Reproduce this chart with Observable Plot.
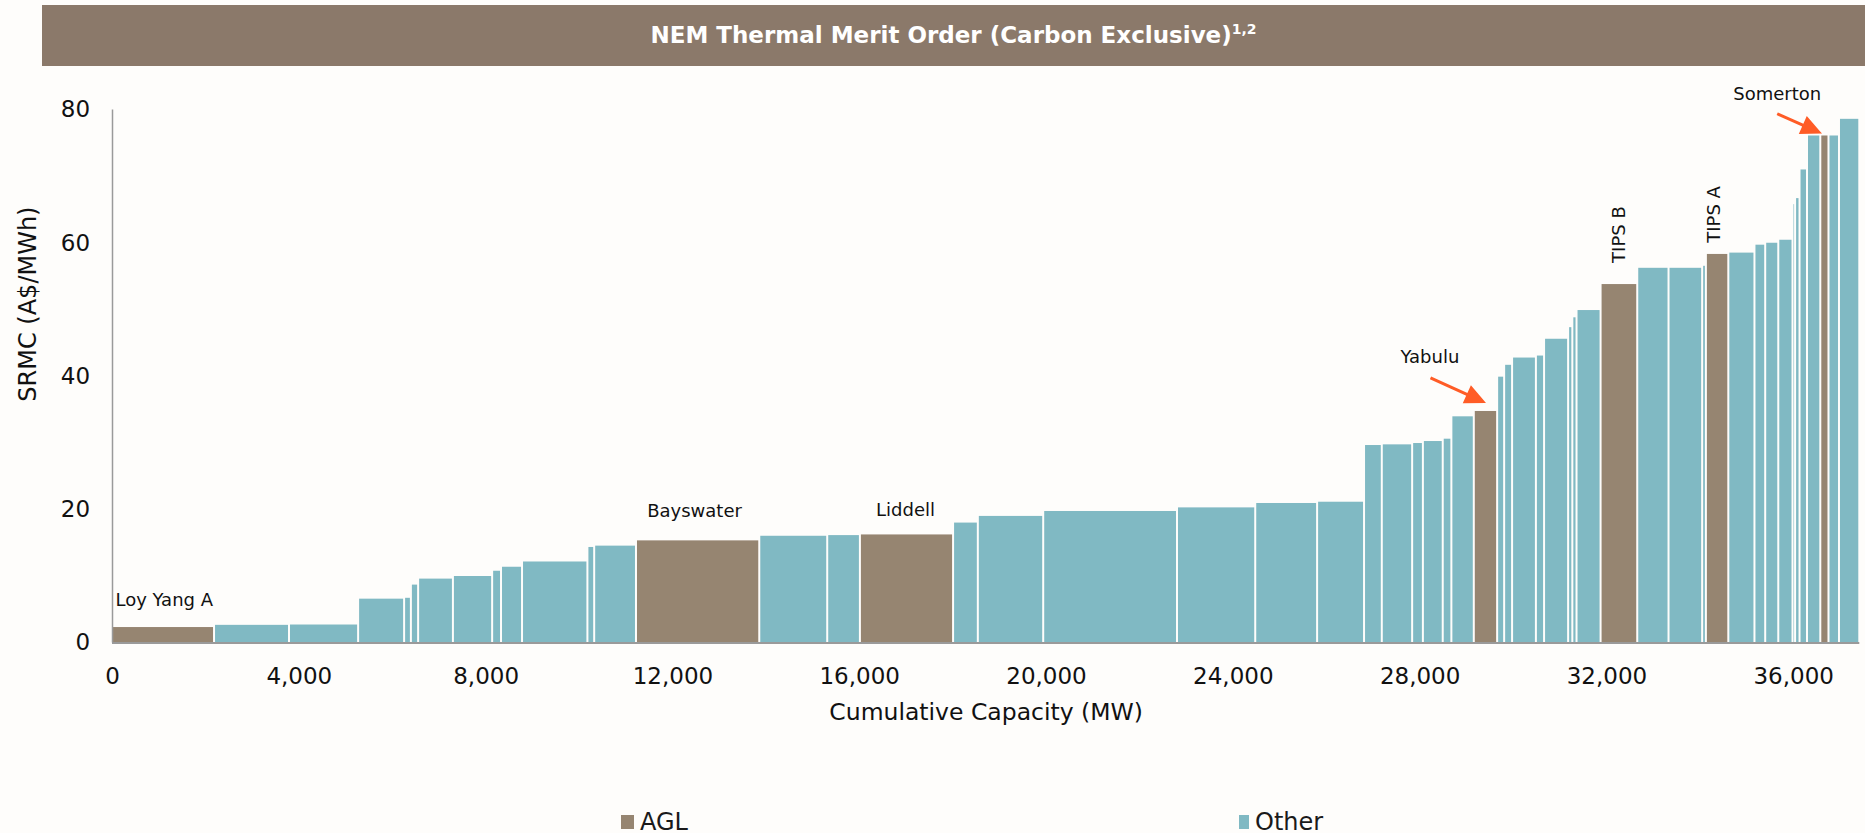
<!DOCTYPE html>
<html>
<head>
<meta charset="utf-8">
<script src="https://cdn.jsdelivr.net/npm/d3@7"></script>
<script src="https://cdn.jsdelivr.net/npm/@observablehq/plot@0.6"></script>
<style>
html, body { margin: 0; padding: 0; background: #FEFDFB; overflow: hidden; }
body { width: 1865px; height: 833px; font-family: "DejaVu Sans", Verdana, sans-serif; }
#title { margin: 5px 0 0 42px; height: 61px; line-height: 61px; background: #8B796A; color: #fff;
  font-weight: bold; font-size: 23px; text-align: center; white-space: nowrap; }
#title sup { font-size: 14px; line-height: 0; vertical-align: 9px; }
#chart svg { display: block; }
#legend { position: relative; height: 25px; font-size: 24px; color: #1a1a1a; }
#legend .sw { position: absolute; top: 7px; height: 14px; }
#legend .lb { position: absolute; top: 0; height: 28px; line-height: 28px; white-space: nowrap; }
</style>
</head>
<body>
<div id="title">NEM Thermal Merit Order (Carbon Exclusive)<sup>1,2</sup></div>
<div id="chart"></div>
<div id="legend"></div>
<script>
// ---- data ----
const plants = [
  "Loy Yang A", "", "", "", "", "", "", "", "", "", "", "", "",
  "Bayswater", "", "", "Liddell", "", "", "", "", "", "", "", "", "", "", "", "",
  "Yabulu", "", "", "", "", "", "", "", "",
  "TIPS B", "", "", "", "TIPS A", "", "", "", "", "", "", "", "",
  "Somerton", "", ""
];
const owners = [
  "AGL", "Other", "Other", "Other", "Other", "Other", "Other", "Other", "Other", "Other", "Other", "Other", "Other",
  "AGL", "Other", "Other", "AGL", "Other", "Other", "Other", "Other", "Other", "Other", "Other", "Other", "Other", "Other", "Other", "Other",
  "AGL", "Other", "Other", "Other", "Other", "Other", "Other", "Other", "Other",
  "AGL", "Other", "Other", "Other", "AGL", "Other", "Other", "Other", "Other", "Other", "Other", "Other", "Other",
  "AGL", "Other", "Other"
];
const capacityMW = [
  2185, 1605, 1480, 985, 145, 155, 745, 840, 190, 450, 1400, 145, 895,
  2640, 1455, 700, 1995, 530, 1400, 2865, 1675, 1325, 1005, 380, 650, 230, 425, 185, 480,
  500, 150, 170, 510, 175, 515, 90, 90, 515,
  785, 670, 720, 80, 480, 560, 230, 280, 305, 55, 95, 160, 285,
  175, 225, 435
];
const srmc = [
  2.32, 2.65, 2.7, 6.58, 6.71, 8.69, 9.59, 9.98, 10.77, 11.37, 12.16, 14.34, 14.54,
  15.33, 16.02, 16.12, 16.22, 18.0, 19.0, 19.74, 20.28, 20.94, 21.13, 29.64, 29.74, 29.94, 30.24, 30.59, 33.95,
  34.75, 39.9, 41.68, 42.77, 43.07, 45.59, 47.33, 48.81, 49.9,
  53.8, 56.24, 56.24, 56.54, 58.32, 58.52, 59.71, 60.0, 60.45, 65.8, 66.7, 71.0, 76.1,
  76.1, 76.1, 78.6
];
const ownerNames = ["AGL", "Other"];
const ownerColors = ["#968571", "#80B9C3"];
const xTicks = [0, 4000, 8000, 12000, 16000, 20000, 24000, 28000, 32000, 36000];
const yTicks = [0, 20, 40, 60, 80];
const xTitle = "Cumulative Capacity (MW)";
const yTitle = "SRMC (A$/MWh)";

// ---- derived table ----
const ends = d3.cumsum(capacityMW);
const bars = capacityMW.map((c, i) => ({
  plant: plants[i], owner: owners[i], value: srmc[i],
  start: ends[i] - c, end: ends[i], mid: ends[i] - c / 2
}));
const xMax = d3.sum(capacityMW);
const ARROW = "#FF5C26";
const FONT = '"DejaVu Sans", Verdana, sans-serif';

const pick = (name) => bars.filter(d => d.plant === name);
const label = (name, opts) => Plot.text(pick(name), {
  x: "mid", y: "value", text: "plant", fontSize: 18, fill: "#111", ...opts
});
const headShape = {
  draw(ctx, l) {
    const h = 16, w = 7.5;
    ctx.moveTo(0, 0);
    ctx.lineTo(0, -l + h * 0.9);
    ctx.moveTo(0, -l);
    ctx.lineTo(-w, -l + h);
    ctx.lineTo(w, -l + h);
    ctx.closePath();
  }
};

function build(shape) {
  const arrow = (name, opts) => Plot.vector(pick(name), {
    x: "mid", y: "value", anchor: "end", shape,
    stroke: ARROW, fill: ARROW, strokeWidth: 3, strokeLinejoin: "miter", strokeLinecap: "butt", ...opts
  });
  return Plot.plot({
    width: 1865,
    height: 742,
    marginLeft: 112,
    marginRight: 5.7,
    marginTop: 43.5,
    marginBottom: 165.5,
    x: {domain: [0, xMax]},
    y: {domain: [0, 80]},
    color: {domain: ownerNames, range: ownerColors},
    style: {fontFamily: FONT, background: "transparent", color: "#111", overflow: "visible"},
    marks: [
      Plot.rect(bars, {x1: "start", x2: "end", y1: 0, y2: "value", fill: "owner", insetLeft: 1, insetRight: 1}),
      Plot.ruleX([0], {stroke: "#9a9a9a", strokeWidth: 1.5}),
      Plot.ruleY([0], {stroke: "#9a9a9a", strokeWidth: 2}),
      Plot.axisX({ticks: xTicks, tickFormat: d3.format(","), tickSize: 0, tickPadding: 25, fontSize: 23, label: null}),
      Plot.axisY({ticks: yTicks, tickSize: 0, tickPadding: 22.4, fontSize: 23, label: null}),
      Plot.text([xTitle], {text: d => d, frameAnchor: "bottom", textAnchor: "middle", lineAnchor: "middle",
        dy: 69.2, fontSize: 23.5, fill: "#111"}),
      Plot.text([yTitle], {text: d => d, frameAnchor: "left", textAnchor: "middle", lineAnchor: "middle",
        rotate: -90, dx: -84, dy: -72.4, fontSize: 24, fill: "#111"}),
      label("Loy Yang A", {x: "start", textAnchor: "start", dx: 3, dy: -27}),
      label("Bayswater", {dx: -3.6, dy: -30}),
      label("Liddell", {dx: -1.5, dy: -24.5}),
      label("Yabulu", {dx: -56, dy: -54.3}),
      label("TIPS B", {rotate: -90, dy: -50}),
      label("TIPS A", {rotate: -90, dx: -3, dy: -40}),
      label("Somerton", {dx: -47.7, dy: -41.5}),
      arrow("Yabulu", {length: 57.4, rotate: 114.4, dx: -3.2, dy: -10}),
      arrow("Somerton", {length: 45.5, rotate: 113.9, dx: -6.1, dy: -3.8})
    ]
  });
}

let chart;
try { chart = build(headShape); } catch (e) { chart = build("arrow"); }
document.getElementById("chart").append(chart);

// ---- legend ----
const legendPos = [{sw: 621, sww: 13, lb: 640}, {sw: 1239, sww: 10, lb: 1255}];
const legend = document.getElementById("legend");
ownerNames.forEach((name, i) => {
  const sw = document.createElement("div");
  sw.className = "sw";
  sw.style.left = legendPos[i].sw + "px";
  sw.style.width = legendPos[i].sww + "px";
  sw.style.background = ownerColors[i];
  const lb = document.createElement("div");
  lb.className = "lb";
  lb.style.left = legendPos[i].lb + "px";
  lb.textContent = name;
  legend.append(sw, lb);
});
</script>
</body>
</html>
